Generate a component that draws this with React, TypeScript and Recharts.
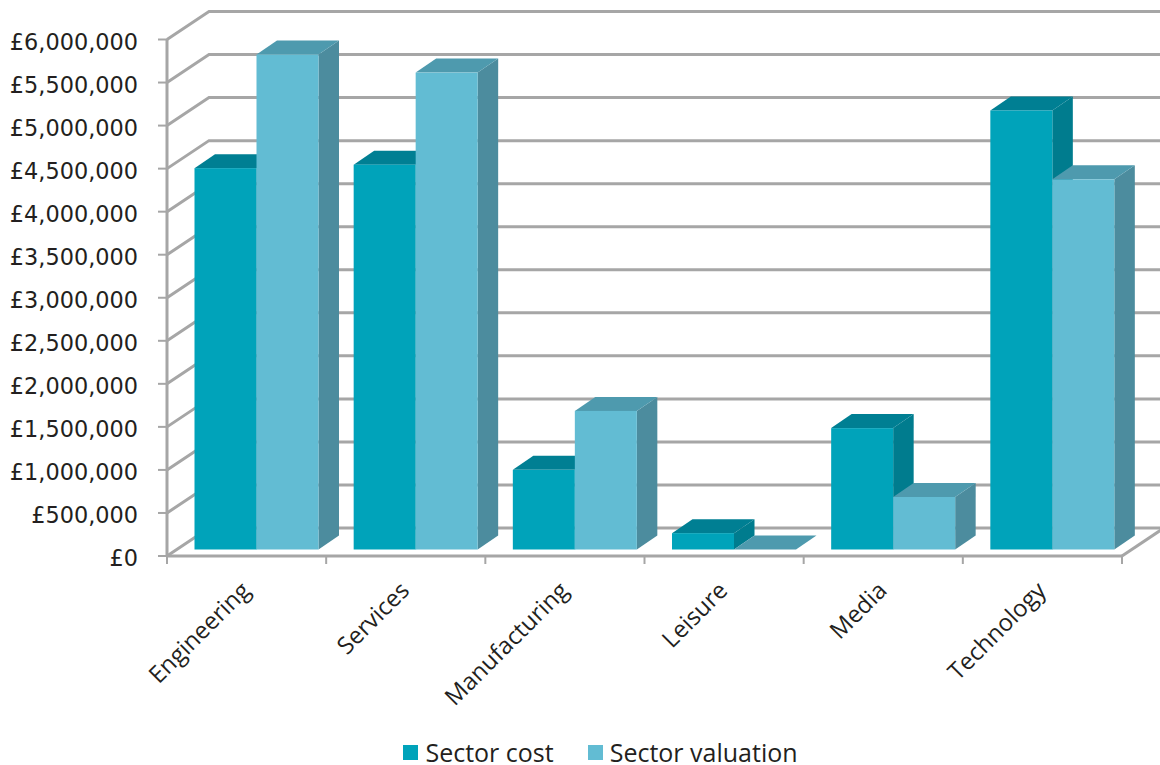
import { BarChart, Bar, XAxis, YAxis, CartesianGrid, Legend } from 'recharts'

const CATEGORIES = ['Engineering', 'Services', 'Manufacturing', 'Leisure', 'Media', 'Technology']
const SECTOR_COST = [4430000, 4470000, 925000, 190000, 1410000, 5100000]
const SECTOR_VALUATION = [5750000, 5540000, 1610000, 0, 610000, 4300000]
const Y_TICKS = [0, 500000, 1000000, 1500000, 2000000, 2500000, 3000000, 3500000, 4000000, 4500000, 5000000, 5500000, 6000000]

const data = CATEGORIES.map((name, i) => ({ name, cost: SECTOR_COST[i], valuation: SECTOR_VALUATION[i] }))

const WIDTH = 1160
const HEIGHT = 765
const LEFT = 167
const RIGHT = 1122
const BAND = (RIGHT - LEFT) / CATEGORIES.length
const GRID = '#a6a6a6'
const TEXT = '#231f20'
const FONT = '"DejaVu Sans", sans-serif'
const LEGEND_FONT = '"Open Sans", sans-serif'

// 3d depth of the walls and of the bars
const WALL_DX = 42
const WALL_DY = -28
const BAR_DX = 20.5
const BAR_DY = -14
const BAR_SHIFT_X = 9.5
const BAR_SHIFT_Y = -6.5

const box = (front: string, top: string, side: string) => (props: any) => {
  const x = props.x + BAR_SHIFT_X
  const y = props.y + BAR_SHIFT_Y
  const w = props.width
  const h = props.height
  return (
    <g>
      <polygon points={`${x + w},${y} ${x + w + BAR_DX},${y + BAR_DY} ${x + w + BAR_DX},${y + h + BAR_DY} ${x + w},${y + h}`} fill={side} />
      <polygon points={`${x},${y} ${x + BAR_DX},${y + BAR_DY} ${x + w + BAR_DX},${y + BAR_DY} ${x + w},${y}`} fill={top} />
      <rect x={x} y={y} width={w} height={h} fill={front} />
    </g>
  )
}

const gridLine = (props: any) => {
  const { x1, x2, y1, index } = props
  const isFloor = Math.abs(y1 - (HEIGHT - 209)) < 1
  return (
    <g key={`grid-${index}`} fill="none" stroke={GRID} strokeWidth={3}>
      <polyline points={`${x1},${y1} ${x1 + WALL_DX},${y1 + WALL_DY} ${x2 + WALL_DX},${y1 + WALL_DY}`} />
      {isFloor && <line x1={x2} y1={y1} x2={x2 + WALL_DX} y2={y1 + WALL_DY} />}
    </g>
  )
}

const YTick = (props: any) => (
  <g>
    <line x1={props.x - 9} x2={props.x} y1={props.y} y2={props.y} stroke={GRID} strokeWidth={2} />
    <text x={props.x - 29} y={props.y} dy={10} textAnchor="end" fontFamily={FONT} fontSize={22.4} fill={TEXT}>
      £{Number(props.payload.value).toLocaleString('en-GB')}
    </text>
  </g>
)

const XTick = (props: any) => {
  const left = props.x - BAND / 2
  const isLast = props.index === CATEGORIES.length - 1
  return (
    <g>
      <line x1={left} x2={left} y1={556} y2={564} stroke={GRID} strokeWidth={2} />
      {isLast && <line x1={left + BAND} x2={left + BAND} y1={556} y2={564} stroke={GRID} strokeWidth={2} />}
      <text
        x={props.x + 5}
        y={592}
        textAnchor="end"
        fontFamily={LEGEND_FONT}
        fontSize={23.8}
        fill={TEXT}
        transform={`rotate(-45 ${props.x + 5} 592)`}
      >
        {props.payload.value}
      </text>
    </g>
  )
}

const LegendRow = (props: any) => (
  <div style={{ display: 'flex', justifyContent: 'center', gap: 34, height: 30, fontFamily: LEGEND_FONT, fontSize: 25, color: TEXT, paddingLeft: 79 }}>
    {props.payload.map((item: any) => (
      <div key={item.value} style={{ display: 'flex', alignItems: 'center', gap: 7 }}>
        <span style={{ width: 15, height: 15, background: item.color, display: 'inline-block' }} />
        <span>{item.value}</span>
      </div>
    ))}
  </div>
)

export default function App() {
  return (
    <div style={{ position: 'absolute', left: 0, top: 0, width: WIDTH, height: HEIGHT, background: '#fff' }}>
      <BarChart
        width={WIDTH}
        height={HEIGHT}
        data={data}
        margin={{ top: 39.5, right: WIDTH - RIGHT, bottom: 29, left: 0 }}
        barCategoryGap={18}
        barGap={0}
      >
        <CartesianGrid horizontal={gridLine} vertical={false} />
        <XAxis dataKey="name" height={150} interval={0} tickLine={false} axisLine={{ stroke: GRID, strokeWidth: 3 }} tick={XTick} />
        <YAxis
          width={LEFT}
          domain={[0, 6000000]}
          ticks={Y_TICKS}
          interval={0}
          tickLine={false}
          tickMargin={0}
          tickSize={0}
          axisLine={{ stroke: GRID, strokeWidth: 3 }}
          tick={YTick}
        />
        <Legend content={LegendRow} verticalAlign="bottom" height={30} wrapperStyle={{ bottom: -2 }} />
        <Bar dataKey="cost" name="Sector cost" fill="#00a3ba" isAnimationActive={false} shape={box('#00a3ba', '#007f93', '#007c8e')} />
        <Bar dataKey="valuation" name="Sector valuation" fill="#62bcd3" isAnimationActive={false} shape={box('#62bcd3', '#4e9aae', '#4c8c9e')} />
      </BarChart>
    </div>
  )
}
